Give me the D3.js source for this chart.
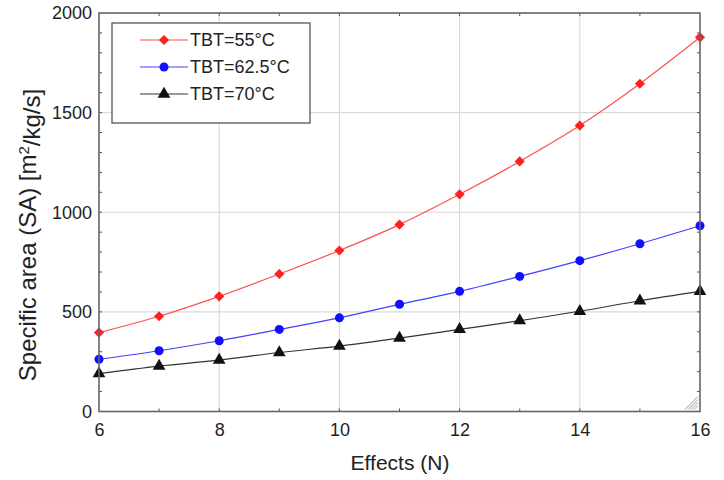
<!DOCTYPE html>
<html><head><meta charset="utf-8">
<script src="https://cdn.jsdelivr.net/npm/d3@7"></script>
<style>body{margin:0;background:#fff}svg{display:block}text{font-family:"Liberation Sans",Arial,sans-serif;fill:#222}</style>
</head><body>
<svg id="c" width="724" height="480"></svg>
<script>
const effects = [6,7,8,9,10,11,12,13,14,15,16];
const sa55  = [396,478,578,690,808,938,1090,1255,1435,1645,1878];
const sa625 = [262,305,355,412,470,538,603,678,757,842,932];
const sa70  = [190,228,258,296,328,368,412,456,503,556,603];
const seriesNames = ["TBT=55°C","TBT=62.5°C","TBT=70°C"];
const xTicks = [6,8,10,12,14,16];
const yTicks = [0,500,1000,1500,2000];

const svg = d3.select("#c");
const L=99, R=700, T=13, B=411.5;
const x = d3.scaleLinear().domain([6,16]).range([L,R]);
const y = d3.scaleLinear().domain([0,2000]).range([B,T]);

// grid
const g = svg.append("g");
g.selectAll(".gx").data(xTicks.slice(1,-1)).enter().append("line")
 .attr("x1",d=>x(d)).attr("x2",d=>x(d)).attr("y1",T).attr("y2",B)
 .attr("stroke","#d9d9d9").attr("stroke-width",1.2);
g.selectAll(".gy").data(yTicks.slice(1,-1)).enter().append("line")
 .attr("y1",d=>y(d)).attr("y2",d=>y(d)).attr("x1",L).attr("x2",R)
 .attr("stroke","#d9d9d9").attr("stroke-width",1.2);

// minor ticks
const xMinor = d3.range(7,16,1);
const yMinor = d3.range(100,2000,100);
const tk = svg.append("g").attr("stroke","#555").attr("stroke-width",1);
xMinor.forEach(v=>{
  tk.append("line").attr("x1",x(v)).attr("x2",x(v)).attr("y1",B).attr("y2",B-3);
  tk.append("line").attr("x1",x(v)).attr("x2",x(v)).attr("y1",T).attr("y2",T+3);
});
yMinor.forEach(v=>{
  tk.append("line").attr("y1",y(v)).attr("y2",y(v)).attr("x1",L).attr("x2",L+3);
  tk.append("line").attr("y1",y(v)).attr("y2",y(v)).attr("x1",R).attr("x2",R-3);
});

// axes labels via d3 axes (no lines)
const xa = svg.append("g").attr("transform",`translate(0,${B})`)
 .call(d3.axisBottom(x).tickValues(xTicks).tickFormat(d3.format("d")).tickSize(0).tickPadding(12));
xa.select(".domain").remove();
xa.selectAll("text").style("font-size","18px").style("font-family","Liberation Sans, Arial, sans-serif").attr("fill","#222");
const ya = svg.append("g").attr("transform",`translate(${L},0)`)
 .call(d3.axisLeft(y).tickValues(yTicks).tickFormat(d3.format("d")).tickSize(0).tickPadding(7));
ya.select(".domain").remove();
ya.selectAll("text").style("font-size","18px").style("font-family","Liberation Sans, Arial, sans-serif").attr("fill","#222");

// series
const colors = ["#ff2020","#1010ff","#111"];
const lineColors = ["#ff5050","#4040ff","#333"];
const datas = [sa55,sa625,sa70];
const line = d3.line().x((d,i)=>x(effects[i])).y(d=>y(d)).curve(d3.curveMonotoneX);
const symbols = [d3.symbolSquare, d3.symbolCircle, d3.symbolTriangle];
const sizes = [52, 64, 70];
const rot = [45, 0, 0];
datas.forEach((vals,k)=>{
  svg.append("path").datum(vals).attr("d",line).attr("fill","none")
    .attr("stroke",lineColors[k]).attr("stroke-width",1.2);
  svg.append("g").selectAll("path").data(vals).enter().append("path")
    .attr("transform",(d,i)=>`translate(${x(effects[i])},${y(d)}) rotate(${rot[k]})`)
    .attr("d",d3.symbol().type(symbols[k]).size(sizes[k])).attr("fill",colors[k]);
});

// resize corner hatch
const hc = svg.append("g").attr("stroke","#999").attr("stroke-width",1);
[4,7,10,13].forEach(o=>{
  hc.append("line").attr("x1",R-2-o).attr("y1",B-2).attr("x2",R-2).attr("y2",B-2-o);
});

// frame
svg.append("rect").attr("x",L).attr("y",T).attr("width",R-L).attr("height",B-T)
 .attr("fill","none").attr("stroke","#666").attr("stroke-width",1.6);

// legend
const lg = svg.append("g");
lg.append("rect").attr("x",112).attr("y",23).attr("width",198).attr("height",100)
 .attr("fill","#fff").attr("stroke","#555").attr("stroke-width",1.3);
const ly = [40,67,94];
seriesNames.forEach((n,k)=>{
  lg.append("line").attr("x1",140).attr("x2",188).attr("y1",ly[k]).attr("y2",ly[k])
    .attr("stroke",lineColors[k]).attr("stroke-width",1.2);
  lg.append("path").attr("transform",`translate(164,${ly[k]}) rotate(${rot[k]})`)
    .attr("d",d3.symbol().type(symbols[k]).size(sizes[k])).attr("fill",colors[k]);
  lg.append("text").attr("x",190).attr("y",ly[k]).attr("dy","0.36em")
    .style("font-size","18px").text(n);
});

// titles
svg.append("text").attr("x",400).attr("y",470).attr("text-anchor","middle")
 .style("font-size","21px").text("Effects (N)");
const yt = svg.append("text").attr("transform","translate(36,235) rotate(-90)")
 .attr("text-anchor","middle").style("font-size","24px");
yt.append("tspan").text("Specific area (SA) [m");
yt.append("tspan").attr("dy","-0.45em").style("font-size","15px").text("2");
yt.append("tspan").attr("dy","0.45em").text("/kg/s]");
</script>
</body></html>
